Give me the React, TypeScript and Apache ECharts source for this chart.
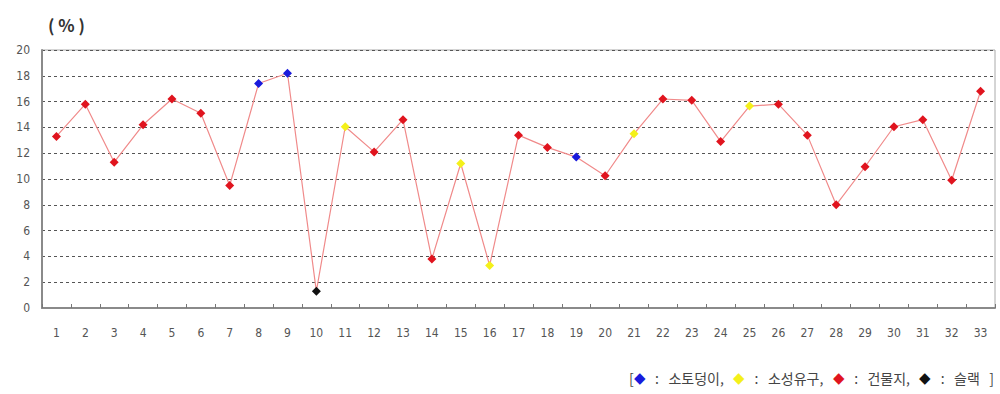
import React, { useEffect, useRef } from "react";
import * as echarts from "echarts";

// Sample numbers along the x axis
const categories: string[] = Array.from({ length: 33 }, (_, i) => String(i + 1));

// Percentage per sample
const values: number[] = [
  13.3, 15.8, 11.3, 14.2, 16.2, 15.1, 9.5, 17.4, 18.2, 1.3,
  14.05, 12.1, 14.6, 3.8, 11.2, 3.3, 13.4, 12.45, 11.7, 10.25,
  13.5, 16.2, 16.1, 12.9, 15.65, 15.8, 13.4, 8.0, 10.95, 14.05,
  14.6, 9.9, 16.8,
];

// Feature type per sample: B = 소토덩이, Y = 소성유구, R = 건물지, K = 슬랙
const kinds: string[] = [
  "R", "R", "R", "R", "R", "R", "R", "B", "B", "K",
  "Y", "R", "R", "R", "Y", "Y", "R", "R", "B", "R",
  "Y", "R", "R", "R", "Y", "R", "R", "R", "R", "R",
  "R", "R", "R",
];

const kindColors: Record<string, string> = {
  B: "#1a1adc",
  Y: "#f4f01a",
  R: "#e0141e",
  K: "#111111",
};

const yTicks = { min: 0, max: 20, interval: 2 };

export default function App() {
  const ref = useRef<HTMLDivElement>(null);

  useEffect(() => {
    if (!ref.current) return;
    const chart = echarts.init(ref.current, null, { renderer: "svg" });
    const data = values.map((v, i) => ({
      value: v,
      itemStyle: { color: kindColors[kinds[i]] },
    }));
    chart.setOption({
      animation: false,
      backgroundColor: "#ffffff",
      grid: {
        left: 42,
        right: 5,
        top: 50,
        bottom: 86,
        show: true,
        borderColor: "#aaaaaa",
        borderWidth: 1,
      },
      xAxis: {
        type: "category",
        data: categories,
        boundaryGap: true,
        axisLine: { lineStyle: { color: "#8a8a8a", width: 2 } },
        axisTick: { show: true, inside: true, length: 4, lineStyle: { color: "#777" } },
        axisLabel: {
          color: "#555",
          fontSize: 12,
          margin: 19,
          fontFamily: "DejaVu Sans Condensed, sans-serif",
        },
        splitLine: { show: false },
      },
      yAxis: {
        type: "value",
        min: yTicks.min,
        max: yTicks.max,
        interval: yTicks.interval,
        axisLine: { show: true, lineStyle: { color: "#8a8a8a", width: 2 } },
        axisTick: { show: false },
        axisLabel: {
          color: "#555",
          fontSize: 12,
          margin: 12,
          fontFamily: "DejaVu Sans Condensed, sans-serif",
        },
        splitLine: {
          show: true,
          lineStyle: { color: "#555", type: [3, 3], width: 1 },
        },
      },
      series: [
        {
          type: "line",
          data,
          symbol: "diamond",
          symbolSize: 9,
          showSymbol: true,
          lineStyle: { color: "#f08a8a", width: 1.2 },
          z: 3,
        },
      ],
      graphic: [
        {
          type: "text",
          left: 48,
          top: 16,
          style: {
            text: "( % )",
            fontSize: 17,
            fontWeight: "bold",
            fill: "#333",
            fontFamily: "Noto Sans CJK KR, sans-serif",
          },
        },
        {
          type: "text",
          right: 6,
          top: 370,
          style: {
            text:
              "[{b|◆}   :   소토덩이,   {y|◆}   :   소성유구,   {r|◆}   :   건물지,   {k|◆}   :   슬랙   ]",
            fontSize: 14,
            fill: "#444",
            fontFamily: "Noto Sans CJK KR, sans-serif",
            rich: {
              b: { fill: kindColors.B, fontSize: 15 },
              y: { fill: kindColors.Y, fontSize: 15 },
              r: { fill: kindColors.R, fontSize: 15 },
              k: { fill: kindColors.K, fontSize: 15 },
            },
          },
        },
      ],
    });
    return () => chart.dispose();
  }, []);

  return (
    <div
      ref={ref}
      style={{ position: "fixed", left: 0, top: 0, width: 1000, height: 394 }}
    />
  );
}
